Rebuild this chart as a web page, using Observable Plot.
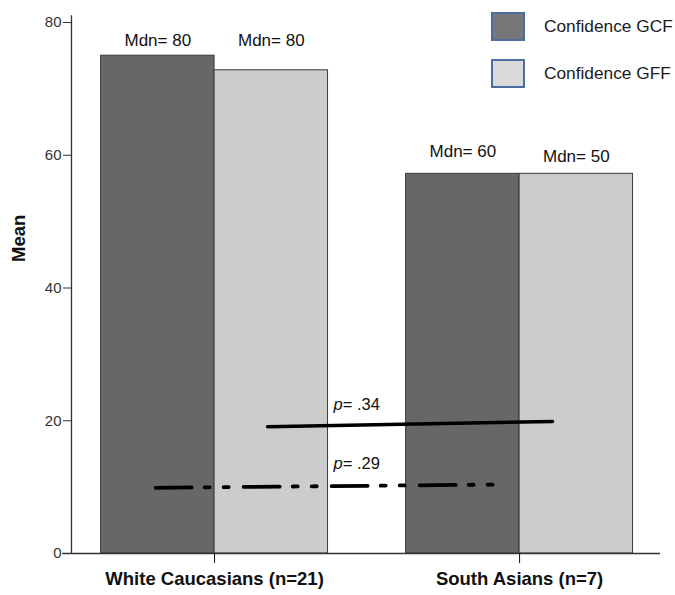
<!DOCTYPE html>
<html>
<head>
<meta charset="utf-8">
<script src="https://cdn.jsdelivr.net/npm/d3@7"></script>
<script src="https://cdn.jsdelivr.net/npm/@observablehq/plot@0.6"></script>
<style>
  body { margin: 0; background: #fff; }
  #wrap { position: relative; width: 675px; height: 595px; font-family: "Liberation Sans", Arial, sans-serif; }
  #legend { position: absolute; left: 491px; top: 13px; }
  .item { display: flex; align-items: center; height: 27px; margin-bottom: 20px; }
  .sw { width: 30px; height: 25px; border: 2px solid #4a6f9f; box-sizing: content-box; margin-right: 19px; }
  .lab { font-size: 17.3px; color: #1a1a1a; }
  svg [aria-label="y-axis tick label"] text { font-size: 15px; }
</style>
</head>
<body>
<div id="wrap"></div>
<script>
// ---- data ----
const groups = ["White Caucasians (n=21)", "South Asians (n=7)"];
const series = ["Confidence GCF", "Confidence GFF"];
const colors = ["#676767", "#cccccc"];
const meanGCF = [75, 57.2];
const meanGFF = [72.8, 57.2];
const mdnGCF = ["Mdn= 80", "Mdn= 60"];
const mdnGFF = ["Mdn= 80", "Mdn= 50"];
const mdnLabelY_GCF = [77.3, 60.6];
const mdnLabelY_GFF = [77.3, 59.8];
const yTicks = [0, 20, 40, 60, 80];
// comparison lines (x in group-position units, y in Mean units)
const pSolidX = [1.174, 2.108];
const pSolidY = [19.1, 19.9];
const pDashX = [0.807, 1.954];
const pDashY = [9.9, 10.4];
const pLabels = [" .34", " .29"];
const pLabelX = [1.42, 1.42];
const pLabelY = [22.4, 13.5];

// ---- build ----
const barW = 0.372;
const bars = [];
groups.forEach((g, i) => {
  const c = i + 1;
  bars.push({group: g, series: series[0], x1: c - barW, x2: c, y: meanGCF[i], mdn: mdnGCF[i], ly: mdnLabelY_GCF[i]});
  bars.push({group: g, series: series[1], x1: c, x2: c + barW, y: meanGFF[i], mdn: mdnGFF[i], ly: mdnLabelY_GFF[i]});
});
const solid = pSolidX.map((x, i) => ({x, y: pSolidY[i]}));
const dash = pDashX.map((x, i) => ({x, y: pDashY[i]}));
const plab = pLabels.map((t, i) => ({t, x: pLabelX[i], y: pLabelY[i]}));

const xDomain = [0.531, 2.462];
const chart = Plot.plot({
  width: 675,
  height: 595,
  marginLeft: 71,
  marginRight: 15,
  marginTop: 22,
  marginBottom: 42,
  style: {fontFamily: "Liberation Sans, Arial, sans-serif", background: "#fff"},
  x: {type: "linear", domain: xDomain},
  y: {domain: [0, 80]},
  color: {domain: series, range: colors},
  marks: [
    Plot.rectY(bars, {x1: "x1", x2: "x2", y: "y", fill: "series", stroke: "#3a3a3a", strokeWidth: 1}),
    Plot.ruleX([xDomain[0]], {y1: 0, y2: 81, stroke: "#333", strokeWidth: 1.3}),
    Plot.ruleY([0], {x1: 0.502, x2: xDomain[1], stroke: "#333", strokeWidth: 1.3}),
    Plot.axisY({ticks: yTicks, tickSize: 8, tickPadding: 2, fontSize: 15, color: "#333", label: null}),
    Plot.axisX({ticks: [1, 2], tickFormat: d => groups[d - 1], tickSize: 10, tickPadding: 8, fontSize: 18.5, fontWeight: "bold", color: "#111", label: null}),
    Plot.text(["Mean"], {frameAnchor: "left", rotate: -90, dx: -52, dy: -26, fontSize: 18.5, fontWeight: "bold", fill: "#111"}),
    Plot.text(bars, {x: d => (d.x1 + d.x2) / 2, y: "ly", text: "mdn", fontSize: 17, fill: "#111"}),
    Plot.line(solid, {x: "x", y: "y", stroke: "#000", strokeWidth: 3.5}),
    Plot.line(dash, {x: "x", y: "y", stroke: "#000", strokeWidth: 3.8, strokeDasharray: "36,13,5,14,5,15"}),
    Plot.text(plab, {x: "x", y: "y", text: () => "p", textAnchor: "end", fontStyle: "italic", fontSize: 16.5, fill: "#111"}),
    Plot.text(plab, {x: "x", y: "y", text: d => "=" + d.t, textAnchor: "start", fontSize: 16.5, fill: "#111"})
  ]
});
const wrap = document.getElementById("wrap");
wrap.appendChild(chart);
const legend = document.createElement("div");
legend.id = "legend";
series.forEach((s, i) => {
  const it = document.createElement("div");
  it.className = "item";
  it.innerHTML = `<div class="sw" style="background:${i === 0 ? "#777777" : "#d9d9d9"}"></div><span class="lab">${s}</span>`;
  legend.appendChild(it);
});
wrap.appendChild(legend);
</script>
</body>
</html>
